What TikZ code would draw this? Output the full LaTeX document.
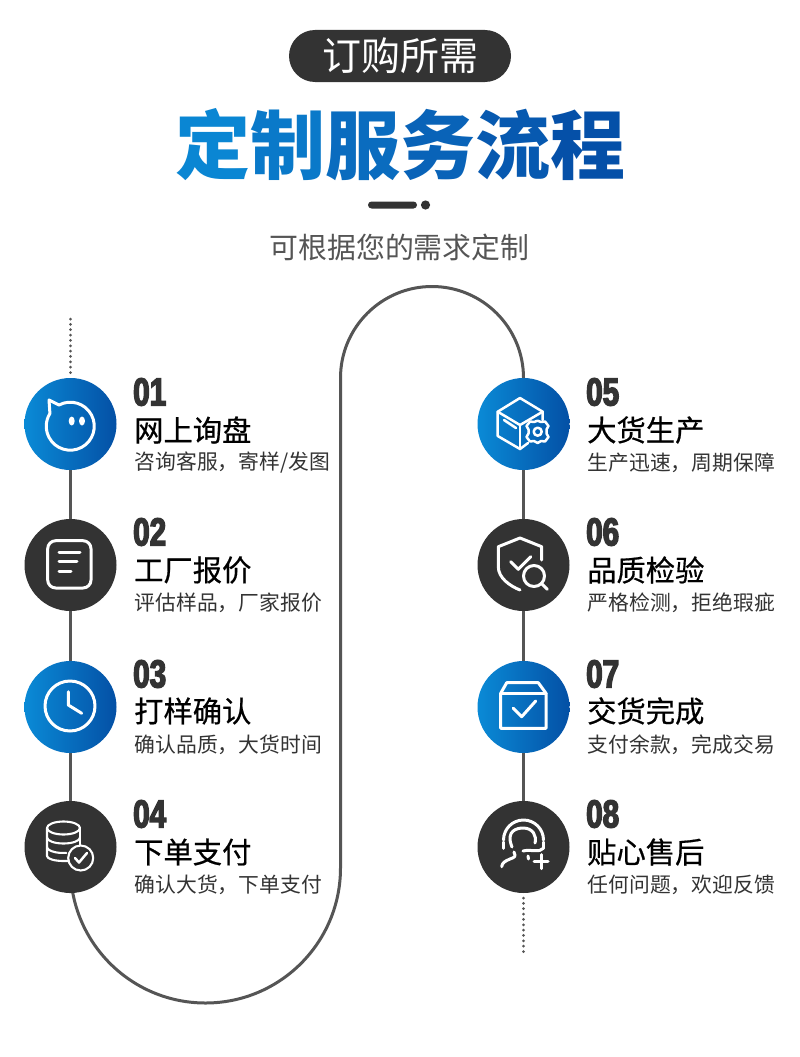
\documentclass[tikz,border=0pt]{standalone}
\usepackage{fontspec}
\usetikzlibrary{backgrounds}
\setmainfont{Liberation Sans}
\newfontfamily\cjk{Noto Sans CJK SC}
\newfontfamily\cjkhead[FakeBold=0.6]{Noto Sans CJK SC}
\newfontfamily\numf[FakeStretch=0.76,FakeBold=3.6]{Liberation Sans}
\definecolor{dk}{HTML}{333333}
\definecolor{ln}{HTML}{555555}
\definecolor{bl}{HTML}{0A8AD6}
\definecolor{br}{HTML}{0450A5}
\definecolor{t1}{HTML}{0A86D3}
\definecolor{t2}{HTML}{0A79C9}
\definecolor{t3}{HTML}{0A6CBF}
\definecolor{t4}{HTML}{0963B8}
\definecolor{t5}{HTML}{0759B0}
\definecolor{t6}{HTML}{0550A8}
\tikzset{
  x=1pt,y=-1pt,
  stepblue/.style={circle,minimum size=92pt,inner sep=0pt,left color=bl,right color=br},
  stepdark/.style={circle,minimum size=92pt,inner sep=0pt,fill=dk},
  num/.style={anchor=west,inner sep=0pt,text=dk,font=\numf\bfseries\fontsize{39}{39}\selectfont},
  head/.style={anchor=west,inner sep=0pt,text=black,font=\cjkhead\fontsize{29.3}{30}\selectfont},
  sub/.style={anchor=west,inner sep=0pt,text=dk,font=\cjk\fontsize{20.8}{22}\selectfont},
  conn/.style={draw=ln,line width=3.4pt},
  thin conn/.style={draw=ln,line width=3pt},
  dots/.style={draw=ln,line width=3pt,line cap=round,dash pattern=on 0pt off 5.35pt},
  ic/.style={draw=white,line width=3pt,line cap=round,line join=round},
  icm/.style={draw=white,line width=2.5pt,line cap=round,line join=round},
  icn/.style={draw=white,line width=2.1pt,line cap=round,line join=round},
}
\begin{document}
\begin{tikzpicture}
\useasboundingbox (0,0) rectangle (800,1057);
% header
\node (pill) [rounded corners=26pt,fill=dk,minimum width=222pt,minimum height=52pt,inner sep=0pt] at (400,56) {};
\node (pilltext) [text=white,font=\cjk\fontsize{39}{40}\selectfont,inner sep=0pt] at (400,56) {订购所需};
\node (title) [inner sep=0pt,font=\cjk\bfseries\fontsize{75}{76}\selectfont] at (400,145) {\textcolor{t1}{定}\textcolor{t2}{制}\textcolor{t3}{服}\textcolor{t4}{务}\textcolor{t5}{流}\textcolor{t6}{程}};
\fill[dk,rounded corners=3.5pt] (368,201.5) rectangle (417,208.5);
\fill[dk] (425.5,205) circle (4.6pt);
\node (subtitle) [inner sep=0pt,text=ln,font=\cjk\fontsize{28.9}{30}\selectfont] at (399.5,247) {可根据您的需求定制};
% step circles
\node (c1) [stepblue] at (70.5,424) {};
\node (c2) [stepdark] at (70.5,565) {};
\node (c3) [stepblue] at (70.5,707) {};
\node (c4) [stepdark] at (70.5,847) {};
\node (c5) [stepblue] at (523.5,424) {};
\node (c6) [stepdark] at (523.5,565) {};
\node (c7) [stepblue] at (523.5,707) {};
\node (c8) [stepdark] at (523.5,847) {};
\coordinate (dtop) at (70.5,319);
\coordinate (dbot) at (523.5,953);
\coordinate (lb) at (70.5,868);
\begin{pgfonlayer}{background}
\fill[white] (0,0) rectangle (800,1057);
\draw[dots] (dtop) -- (70.5,376);
\draw[dots] (523.5,898) -- (dbot);
\draw[conn] (c1) -- (c2);
\draw[conn] (c2) -- (c3);
\draw[conn] (c3) -- (c4);
\draw[conn] (c5) -- (c6);
\draw[conn] (c6) -- (c7);
\draw[conn] (c7) -- (c8);
\draw[thin conn] (c4) -- (lb) arc[start angle=180,end angle=360,radius=135pt] -- (340.5,378) arc[start angle=180,end angle=0,radius=91.5pt] -- (c5);
\end{pgfonlayer}
% texts left
\node (n1) [num] at (133,392) {01};
\node (h1) [head] at (134,430) {网上询盘};
\node (s1) [sub] at (134.5,463) {咨询客服，寄样/发图};
\node (n2) [num] at (133,532) {02};
\node (h2) [head] at (134,570) {工厂报价};
\node (s2) [sub] at (134.5,603) {评估样品，厂家报价};
\node (n3) [num] at (133,674) {03};
\node (h3) [head] at (134,711) {打样确认};
\node (s3) [sub] at (134.5,745) {确认品质，大货时间};
\node (n4) [num] at (133,814) {04};
\node (h4) [head] at (134,852) {下单支付};
\node (s4) [sub] at (134.5,885) {确认大货，下单支付};
% texts right
\node (n5) [num] at (586,392) {05};
\node (h5) [head] at (587,430) {大货生产};
\node (s5) [sub] at (587.5,463) {生产迅速，周期保障};
\node (n6) [num] at (586,532) {06};
\node (h6) [head] at (587,570) {品质检验};
\node (s6) [sub] at (587.5,603) {严格检测，拒绝瑕疵};
\node (n7) [num] at (586,674) {07};
\node (h7) [head] at (587,711) {交货完成};
\node (s7) [sub] at (587.5,745) {支付余款，完成交易};
\node (n8) [num] at (586,814) {08};
\node (h8) [head] at (587,852) {贴心售后};
\node (s8) [sub] at (587.5,885) {任何问题，欢迎反馈};
% icon 1: chat face
\draw[ic] (49,400) -- (59,405) arc[start angle=118,end angle=-212,radius=24pt] -- cycle;
\fill[white] (71.7,421) ellipse (3pt and 4.5pt) (82,421) ellipse (3pt and 4.5pt);
% icon 2: note
\draw[ic,rounded corners=8pt] (47.7,540.7) rectangle (91,588);
\draw[ic] (59,552.7) -- (80,552.7) (59,561.7) -- (77,561.7) (59,571) -- (71,571);
% icon 3: clock
\draw[ic] (70,706) circle (25pt);
\draw[ic] (68.3,691.7) -- (68.3,705) -- (81.7,713.3);
% icon 4: database and check
\draw[icn] (63.5,828) ellipse (16.5pt and 6.5pt);
\draw[icn] (47,828) -- (47,856) arc[start angle=180,end angle=270,x radius=16.5pt,y radius=5pt] -- (68,861);
\draw[icn] (47,837.5) arc[start angle=180,end angle=360,x radius=16.5pt,y radius=6pt];
\draw[icn] (47,847) arc[start angle=180,end angle=280,x radius=16.5pt,y radius=6pt];
\draw[icn] (80,828) -- (80,845);
\draw[icn,fill=dk] (80.7,858) circle (12.5pt);
\draw[icm] (75,858) -- (79,862.5) -- (87,853);
% icon 5: box with gear
\draw[icm] (520,398) -- (497.7,411.7) -- (497.7,436) -- (520,449) -- (528,443);
\draw[icm] (520,398) -- (542.7,411.7) -- (542.7,420);
\draw[icm] (497.7,411.7) -- (520,425) -- (542.7,411.7);
\draw[icm] (520,425) -- (520,449);
\draw[icm] (504,420) -- (516,428);
\draw[icm] (537.7,420.7) -- (541,422) -- (545,421.5) -- (548.5,426) -- (546.5,429.5) -- (546.5,433.5) -- (548.5,437) -- (545,441.5) -- (541,441) -- (537.7,443) -- (534,441) -- (530,441.5) -- (526.5,437) -- (528.5,433.5) -- (528.5,429.5) -- (526.5,426) -- (530,421.5) -- (534,422) -- cycle;
\draw[icm] (537.7,431.7) circle (4pt);
% icon 6: shield and magnifier
\draw[ic] (541.7,560) -- (541.7,546.7) -- (520,538) -- (498.3,546.7) -- (498.3,566.7) .. controls (498.3,578) and (510,586) .. (520,590);
\draw[ic] (510.7,561.7) -- (518.3,569.3) -- (530.7,556.7);
\draw[ic] (534,576) circle (10.5pt);
\draw[ic] (541.5,583.5) -- (547.3,589.3);
% icon 7: parcel
\draw[ic] (506.7,682.7) -- (538.3,682.7) -- (546,693.3) -- (546,728.3) -- (500.7,728.3) -- (500.7,693.3) -- cycle;
\draw[ic] (500.7,693.3) -- (546,693.3);
\draw[ic] (513.3,708.3) -- (521.7,716.7) -- (535.7,701);
% icon 8: support agent
\draw[ic] (503.5,840) arc[start angle=180,end angle=0,radius=20pt];
\draw[ic] (503.3,842) -- (503.3,848.3) (543.5,842) -- (543.5,848.3);
\draw[ic] (512,847) .. controls (505,830) and (518,828) .. (523,828) .. controls (533,828) and (537,836) .. (535,843);
\draw[ic] (543.3,848.3) .. controls (540,853) and (530,849) .. (523,851);
\draw[ic] (514,852) .. controls (516,857) and (515,857) .. (510,859) .. controls (505,861) and (502,863) .. (501.7,866.7);
\draw[ic] (528,856) -- (528.5,859);
\draw[ic] (541,854.7) -- (541,868.7) (534,861.7) -- (548,861.7);
\end{tikzpicture}
\end{document}
